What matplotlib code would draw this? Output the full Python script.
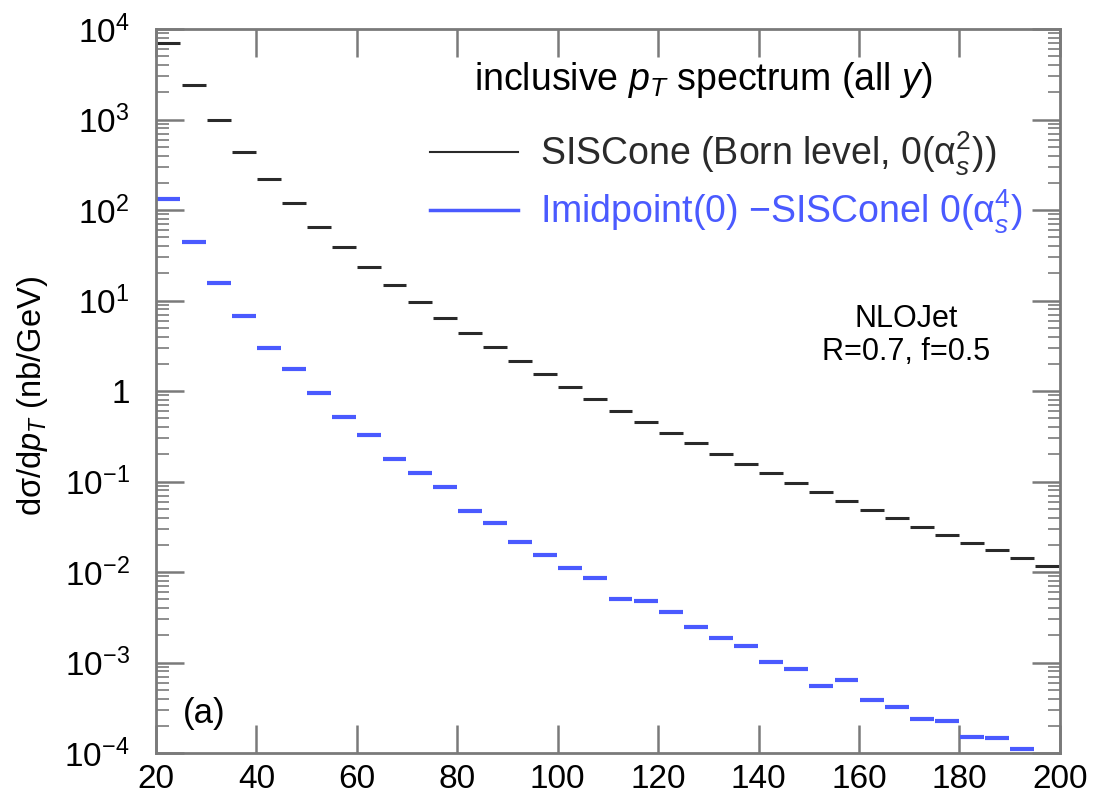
import numpy as np
import matplotlib.pyplot as plt
from matplotlib.ticker import FixedLocator, FuncFormatter, NullFormatter

plt.rcParams['font.family'] = ['Liberation Sans', 'DejaVu Sans']
plt.rcParams['mathtext.fontset'] = 'custom'
plt.rcParams['mathtext.rm'] = 'Liberation Sans'
plt.rcParams['mathtext.it'] = 'Liberation Sans:italic'
plt.rcParams['mathtext.bf'] = 'Liberation Sans:bold'

# bins in pT (GeV), 5 GeV wide
bin_lo = np.arange(20, 200, 5)
bin_hi = bin_lo + 5

# SISCone, Born level
siscone = [7100, 2400, 990, 440, 220, 119, 65, 38.7, 23.7, 14.8,
           9.7, 6.45, 4.37, 3.04, 2.14, 1.54, 1.10, 0.817, 0.601, 0.454,
           0.346, 0.264, 0.201, 0.156, 0.123, 0.096, 0.077, 0.061, 0.0484, 0.0392,
           0.0317, 0.0258, 0.0211, 0.0174, 0.0142, 0.0116]

# |midpoint - SISCone| at O(as^4), last bin empty
diff = [132, 44, 15.7, 6.7, 3.01, 1.75, 0.95, 0.52, 0.324, 0.177,
        0.125, 0.086, 0.0468, 0.0345, 0.0213, 0.0153, 0.0111, 0.00865, 0.0050, 0.00479,
        0.00359, 0.00245, 0.00185, 0.00152, 0.00102, 0.00084, 0.000555, 0.00064, 0.00039, 0.00032,
        0.000238, 0.000224, 0.000150, 0.000147, 0.000111]

black = '#2a2a2a'
blue = '#4a5aff'

fig = plt.figure(figsize=(10.93, 8.08), dpi=100)
ax = fig.add_axes([0.1427, 0.068, 0.827, 0.896])

gap = 0.12
ax.hlines(siscone, bin_lo + gap, bin_hi - gap, color=black, lw=2.2)
nb = len(diff)
ax.hlines(diff, bin_lo[:nb] + gap, bin_hi[:nb] - gap, color=blue, lw=3)

ax.set_yscale('log')
ax.set_xlim(20, 200)
ax.set_ylim(1e-4, 1e4)

# only ticks inside the visible range
decades = np.arange(-4, 5)
ax.xaxis.set_major_locator(FixedLocator(np.arange(20, 201, 20)))
ax.yaxis.set_major_locator(FixedLocator(10.0 ** decades))
minor = [m * 10.0 ** d for d in decades[:-1] for m in range(2, 10)]
ax.yaxis.set_minor_locator(FixedLocator(minor))
ax.yaxis.set_minor_formatter(NullFormatter())

def ylab(v, pos):
    e = int(round(np.log10(v)))
    if e == 0:
        return '1'
    return r'$\mathregular{10^{%d}}$' % e

ax.yaxis.set_major_formatter(FuncFormatter(ylab))

spine_col = '#7a7a7a'
for s in ax.spines.values():
    s.set_color(spine_col)
    s.set_linewidth(2)
ax.tick_params(which='major', direction='in', length=20, width=1.8, color=spine_col,
               top=True, right=True)
ax.tick_params(which='minor', direction='in', length=9, width=1.2, color=spine_col,
               top=False, right=True)
ax.tick_params(axis='x', which='minor', bottom=False, top=False)
ax.tick_params(axis='x', which='major', labelsize=24, pad=8)
ax.tick_params(axis='y', which='major', labelsize=24, pad=19)

fig.text(33 / 1093, 1 - 396 / 808, r'd$\mathrm{\sigma}$/d$p_T$ (nb/GeV)', fontsize=23.5,
         rotation=90, ha='center', va='center')

ax.text(0.606, 0.93, r'inclusive $p_T$ spectrum (all $y$)', transform=ax.transAxes,
        fontsize=27, ha='center', va='center')

# legend drawn by hand: short line + label
leg_x0, leg_x1, leg_tx = 0.303, 0.400, 0.425
ax.plot([leg_x0, leg_x1], [0.830, 0.830], color=black, lw=1.5, transform=ax.transAxes)
ax.text(leg_tx, 0.812, r'SISCone (Born level, 0($\mathrm{\alpha}_s^2$))', transform=ax.transAxes,
        fontsize=27, ha='left', va='baseline', color=black)
ax.plot([leg_x0, leg_x1], [0.750, 0.750], color=blue, lw=2.5, transform=ax.transAxes)
ax.text(leg_tx, 0.732, r'Imidpoint(0) $-$SISConel 0($\mathrm{\alpha}_s^4$)', transform=ax.transAxes,
        fontsize=27, ha='left', va='baseline', color=blue)

ax.text(0.83, 0.577, 'NLOJet\nR=0.7, f=0.5', transform=ax.transAxes,
        fontsize=22, ha='center', va='center', linespacing=1.15)

ax.text(0.03, 0.055, '(a)', transform=ax.transAxes, fontsize=25,
        ha='left', va='center')

fig.savefig('out.png', dpi=100)
